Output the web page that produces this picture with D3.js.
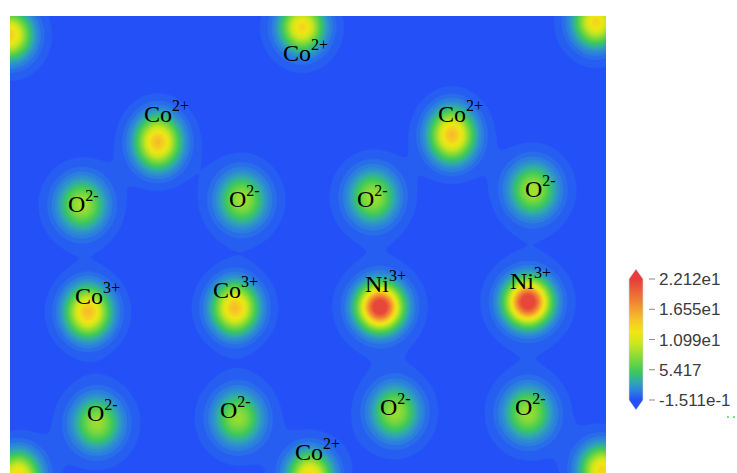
<!DOCTYPE html>
<html>
<head>
<meta charset="utf-8">
<script src="https://cdn.jsdelivr.net/npm/d3@7"></script>
<style>
  html, body { margin: 0; padding: 0; background: #ffffff; }
  svg { display: block; }
</style>
</head>
<body>
<svg id="chart" width="737" height="473"></svg>
<script>
// Charge density slice: ions placed in plane coordinates (Å), density in e/Å³.
const atomName   = ["Co","Co","Co","Co","Co","O","O","O","O","Co","Co","Ni","Ni","O","O","O","O","Co","Co","Co"];
const atomX      = [0.00, 5.84, 11.72, 2.96, 8.84, 1.44, 4.64, 7.26, 10.46, 1.56, 4.50, 7.40, 10.36, 1.74, 4.56, 7.70, 10.36, 6.00, 0.16, 11.84];
const atomY      = [0.38, 0.22, 0.12, 2.52, 2.38, 3.78, 3.68, 3.62, 3.48, 5.92, 5.84, 5.82, 5.72, 8.14, 8.04, 7.92, 7.94, 9.20, 9.20, 9.08];
const atomPeak   = [12.5, 12.0, 12.0, 13.5, 13.5, 7.6, 7.4, 7.4, 7.6, 13.5, 13.5, 22.1, 22.1, 7.2, 7.0, 7.2, 7.2, 12.0, 12.0, 12.0];
const atomSigmaX = [0.26, 0.26, 0.26, 0.27, 0.27, 0.28, 0.28, 0.28, 0.28, 0.27, 0.27, 0.27, 0.27, 0.28, 0.28, 0.28, 0.28, 0.26, 0.26, 0.26];
const atomSigmaY = [0.29, 0.29, 0.29, 0.32, 0.32, 0.31, 0.31, 0.31, 0.31, 0.31, 0.31, 0.28, 0.28, 0.31, 0.31, 0.31, 0.31, 0.29, 0.29, 0.29];
const haloPeak   = [1.6, 1.6, 1.6, 1.6, 1.6, 1.6, 1.6, 1.6, 1.6, 1.6, 1.6, 1.9, 1.9, 1.6, 1.6, 1.6, 1.6, 1.6, 1.6, 1.6];
const haloSigmaX = [0.47, 0.47, 0.47, 0.47, 0.47, 0.49, 0.49, 0.49, 0.49, 0.48, 0.48, 0.52, 0.52, 0.49, 0.49, 0.49, 0.49, 0.47, 0.47, 0.47];
const haloSigmaY = [0.51, 0.51, 0.51, 0.51, 0.51, 0.53, 0.53, 0.53, 0.53, 0.50, 0.50, 0.54, 0.54, 0.53, 0.53, 0.53, 0.53, 0.51, 0.51, 0.51];

// Ion labels: symbol, charge, and text anchor (left edge, baseline) in plane coordinates
const labelSymbol = ["Co","Co","Co","O","O","O","O","Co","Co","Ni","Ni","O","O","O","O","Co"];
const labelCharge = ["2+","2+","2+","2-","2-","2-","2-","3+","3+","3+","3+","2-","2-","2-","2-","2+"];
const labelX      = [5.46, 2.68, 8.56, 1.16, 4.38, 6.94, 10.30, 1.30, 4.06, 7.10, 10.00, 1.54, 4.20, 7.40, 10.10, 5.70];
const labelY      = [0.90, 2.12, 2.12, 3.92, 3.82, 3.82, 3.62, 5.76, 5.64, 5.52, 5.46, 8.10, 8.04, 7.98, 7.98, 8.88];

// Colour bar range and ticks
const valueMin = -0.1511;
const valueMax = 22.12;
const tickValues = [22.12, 16.55, 10.99, 5.417, -0.1511];
const tickLabels = ["2.212e1", "1.655e1", "1.099e1", "5.417", "-1.511e-1"];

// Colour map stops (fraction of range -> colour)
const mapStops  = [0.00, 0.035, 0.08, 0.15, 0.23, 0.34, 0.46, 0.56, 0.66, 0.80, 1.00];
const mapColors = ["#2450f8", "#2864f0", "#2c82dc", "#30a8b0", "#3cc85c", "#7ed83c", "#c8e61e", "#f0e614", "#f6c428", "#f08a32", "#e63c3c"];

const svg = d3.select("#chart");
const plot = { left: 10, top: 16, right: 606, bottom: 473 };

const xScale = d3.scaleLinear().domain([0, 11.92]).range([plot.left, plot.right]);
const yScale = d3.scaleLinear().domain([0, 9.14]).range([plot.top, plot.bottom]);
const kx = xScale(1) - xScale(0);
const ky = yScale(1) - yScale(0);

const color = d3.scaleLinear()
  .domain(mapStops.map(t => valueMin + t * (valueMax - valueMin)))
  .range(mapColors)
  .interpolate(d3.interpolateRgb)
  .clamp(true);

// Sample the density on a pixel grid (one extra cell past each edge, clipped later)
const step = 2;
const gx0 = plot.left - step, gy0 = plot.top - step;
const nx = Math.ceil((plot.right - plot.left) / step) + 2;
const ny = Math.ceil((plot.bottom - plot.top) / step) + 2;
const values = new Float64Array(nx * ny);
for (let j = 0; j < ny; j++) {
  const py = gy0 + (j + 0.5) * step;
  for (let i = 0; i < nx; i++) {
    const px = gx0 + (i + 0.5) * step;
    let v = 0;
    for (let k = 0; k < atomX.length; k++) {
      const dx = px - xScale(atomX[k]);
      const dy = py - yScale(atomY[k]);
      const sx = atomSigmaX[k] * kx, sy = atomSigmaY[k] * ky;
      const hx = haloSigmaX[k] * kx, hy = haloSigmaY[k] * ky;
      v += atomPeak[k] * Math.exp(-(dx * dx) / (2 * sx * sx) - (dy * dy) / (2 * sy * sy));
      v += haloPeak[k] * Math.exp(-(dx * dx) / (2 * hx * hx) - (dy * dy) / (2 * hy * hy));
    }
    values[j * nx + i] = Math.min(v, valueMax);
  }
}

const nBands = 40;
const thresholds = d3.range(nBands).map(i => valueMin + i * (valueMax - valueMin) / nBands);
const bands = d3.contours().size([nx, ny]).thresholds(thresholds)(values);

const path = d3.geoPath(d3.geoIdentity().scale(step).translate([gx0, gy0]));

svg.append("defs").append("clipPath").attr("id", "plotClip")
  .append("rect")
  .attr("x", plot.left).attr("y", plot.top)
  .attr("width", plot.right - plot.left).attr("height", plot.bottom - plot.top);

const field = svg.append("g").attr("clip-path", "url(#plotClip)");
field.append("rect")
  .attr("x", plot.left).attr("y", plot.top)
  .attr("width", plot.right - plot.left).attr("height", plot.bottom - plot.top)
  .attr("fill", color(valueMin));
field.selectAll("path.band")
  .data(bands)
  .join("path")
  .attr("class", "band")
  .attr("d", path)
  .attr("fill", d => color(d.value))
  .attr("stroke", d => color(d.value))
  .attr("stroke-width", 0.6);

// Ion labels
const labels = svg.append("g")
  .attr("font-family", "'Liberation Serif', 'Times New Roman', serif")
  .attr("fill", "#000");
labelSymbol.forEach((s, i) => {
  const t = labels.append("text")
    .attr("x", xScale(labelX[i]))
    .attr("y", yScale(labelY[i]))
    .attr("font-size", 24);
  t.append("tspan").text(s);
  t.append("tspan").attr("font-size", 16).attr("dy", -11).text(labelCharge[i]);
});

// Colour bar
const cb = { x: 629, w: 14, tip: 10 };
const cbScale = d3.scaleLinear().domain([valueMin, valueMax]).range([400, 279]);
const grad = svg.select("defs").append("linearGradient")
  .attr("id", "cbGrad")
  .attr("gradientUnits", "userSpaceOnUse")
  .attr("x1", 0).attr("x2", 0)
  .attr("y1", cbScale(valueMin)).attr("y2", cbScale(valueMax));
mapStops.forEach((t, i) => {
  grad.append("stop").attr("offset", t).attr("stop-color", mapColors[i]);
});
const yTop = cbScale(valueMax), yBot = cbScale(valueMin);
svg.append("path")
  .attr("d", `M${cb.x},${yTop} L${cb.x + cb.w / 2},${yTop - cb.tip} L${cb.x + cb.w},${yTop} ` +
             `L${cb.x + cb.w},${yBot} L${cb.x + cb.w / 2},${yBot + cb.tip} L${cb.x},${yBot} Z`)
  .attr("fill", "url(#cbGrad)")
  .attr("stroke", "#d8d8e8")
  .attr("stroke-width", 0.6);

const ticks = svg.append("g");
tickValues.forEach((v, i) => {
  const y = cbScale(v);
  ticks.append("line")
    .attr("x1", 649).attr("x2", 655)
    .attr("y1", y).attr("y2", y)
    .attr("stroke", "#888").attr("stroke-width", 1);
  ticks.append("text")
    .attr("x", 659).attr("y", y)
    .attr("dy", "0.36em")
    .attr("font-family", "'Liberation Sans', Arial, sans-serif")
    .attr("font-size", 17)
    .attr("fill", "#3c3c3c")
    .text(tickLabels[i]);
});

// small marks below the colour bar labels
svg.append("g").selectAll("rect")
  .data([727, 733])
  .join("rect")
  .attr("x", d => d).attr("y", 416)
  .attr("width", 2).attr("height", 2)
  .attr("fill", "#7ee07e");
</script>
</body>
</html>
